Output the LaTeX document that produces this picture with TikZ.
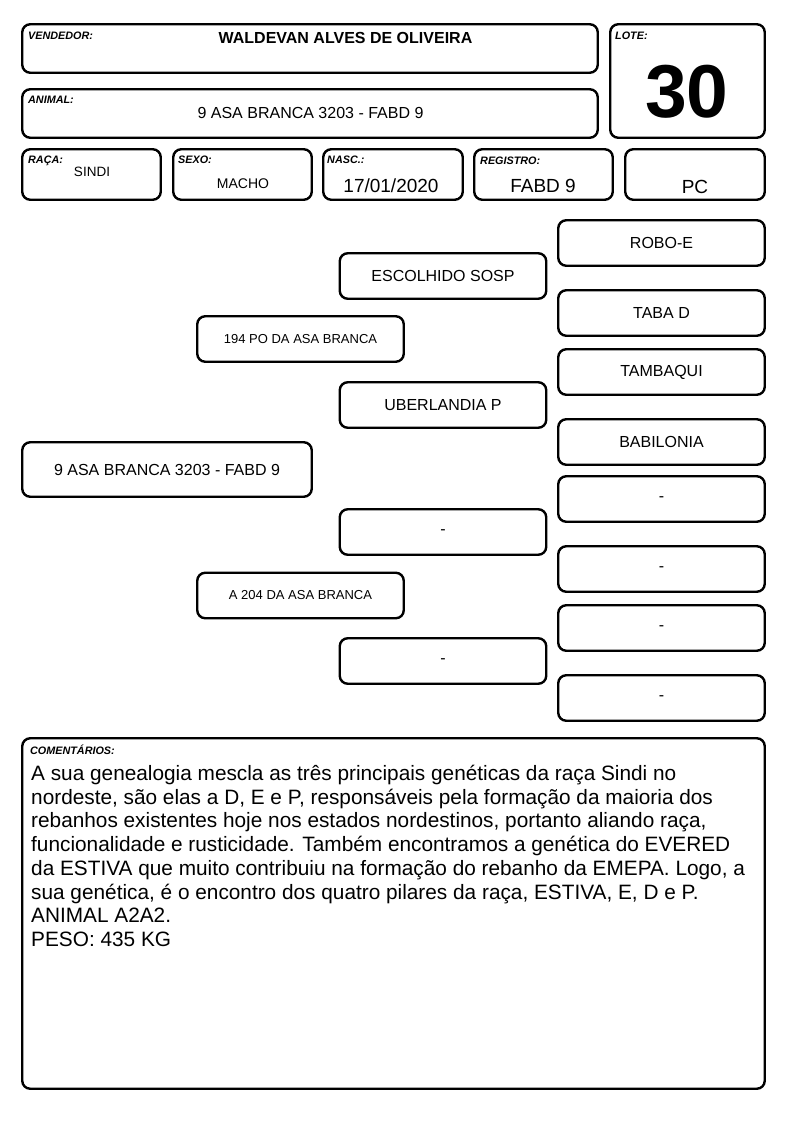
\documentclass[tikz,border=0pt]{standalone}
\usepackage{fontspec}
\setmainfont{Liberation Sans}
\usetikzlibrary{positioning}
\definecolor{fichaPreto}{RGB}{0,0,0}
\tikzset{
  caixa/.style={draw=fichaPreto,line width=2.4pt,rounded corners=8pt,inner sep=0pt},
  rotulo/.style={anchor=north west,inner sep=0pt,font=\fontsize{10.8}{12}\selectfont\bfseries\itshape},
  valor/.style={inner sep=0pt,font=\fontsize{19}{22}\selectfont},
  pedigree/.style={caixa,minimum width=206.5pt,minimum height=45.5pt,font=\fontsize{16}{18}\selectfont},
  avos/.style={pedigree,font=\fontsize{13}{15}\selectfont},
}

\begin{document}
\begin{tikzpicture}[x=1pt,y=-1pt]
  \path[use as bounding box,fill=white] (0,0) rectangle (794,1123);
  % cabecalho
  \node[caixa,minimum width=575.5pt,minimum height=48.5pt] (vendedor) at (310,48.5) {};
  \node[rotulo] (vendedorRot) at (28,32) {VENDEDOR:};
  \node[inner sep=0pt,font=\fontsize{16}{18}\selectfont\bfseries] (vendedorNome) at (345.5,38) {WALDEVAN ALVES DE OLIVEIRA};
  \node[caixa,minimum width=575.5pt,minimum height=48.5pt] (animal) at (310,113.5) {};
  \node[rotulo] (animalRot) at (28,96) {ANIMAL:};
  \node[inner sep=0pt,font=\fontsize{16}{19}\selectfont] (animalNome) at (310.5,113) {9 ASA BRANCA 3203 - FABD 9};
  \node[caixa,minimum width=154.5pt,minimum height=113.5pt] (lote) at (687.5,81) {};
  \node[rotulo] (loteRot) at (615,32) {LOTE:};
  \node[inner sep=0pt,font=\fontsize{75}{80}\selectfont\bfseries] (loteNum) at (687,92) {30};
  % dados do animal
  \node[caixa,minimum width=138.5pt,minimum height=50.5pt] (raca) at (91.5,174.5) {};
  \node[caixa,minimum width=138.5pt,minimum height=50.5pt] (sexo) at (242.5,174.5) {};
  \node[caixa,minimum width=139.5pt,minimum height=50.5pt] (nasc) at (393,174.5) {};
  \node[caixa,minimum width=138.5pt,minimum height=50.5pt] (registro) at (543.5,174.5) {};
  \node[caixa,minimum width=139.5pt,minimum height=50.5pt] (tipo) at (695,174.5) {};
  \node[rotulo] (racaRot) at (28,156) {RAÇA:};
  \node[rotulo] (sexoRot) at (178,156) {SEXO:};
  \node[rotulo] (nascRot) at (327,156) {NASC.:};
  \node[rotulo] (registroRot) at (480,157) {REGISTRO:};
  \node[valor,font=\fontsize{13.5}{16}\selectfont] (racaVal) at (92,172) {SINDI};
  \node[valor,font=\fontsize{14}{16}\selectfont] (sexoVal) at (243,184) {MACHO};
  \node[valor] (nascVal) at (391,186) {17/01/2020};
  \node[valor] (registroVal) at (543,186) {FABD 9};
  \node[valor] (tipoVal) at (695,187) {PC};
  % genealogia
  \node[pedigree,minimum width=289.5pt,minimum height=54.5pt] (proprio) at (167,469.5) {9 ASA BRANCA 3203 - FABD 9};
  \node[avos] (pai) at (300.5,339) {194 PO DA ASA BRANCA};
  \node[avos] (mae) at (300.5,595.5) {A 204 DA ASA BRANCA};
  \node[pedigree] (avoPP) at (443,276) {ESCOLHIDO SOSP};
  \node[pedigree] (avoPM) at (443,405) {UBERLANDIA P};
  \node[pedigree] (avoMP) at (443,532) {-};
  \node[pedigree] (avoMM) at (443,661) {-};
  \node[pedigree] (bisA) at (661.5,243) {ROBO-E};
  \node[pedigree] (bisB) at (661.5,313) {TABA D};
  \node[pedigree] (bisC) at (661.5,372) {TAMBAQUI};
  \node[pedigree] (bisD) at (661.5,442) {BABILONIA};
  \node[pedigree] (bisE) at (661.5,499) {-};
  \node[pedigree] (bisF) at (661.5,569) {-};
  \node[pedigree] (bisG) at (661.5,628) {-};
  \node[pedigree] (bisH) at (661.5,698) {-};
  % comentarios
  \node[caixa,minimum width=742.5pt,minimum height=350.5pt] (comentarios) at (393.5,913.5) {};
  \node[rotulo] (comentariosRot) at (30,745) {COMENTÁRIOS:};
  \node[anchor=north west,inner sep=0pt,align=left,font=\fontsize{20.8}{23.7}\selectfont] (comentariosTxt) at (31,765) {%
A sua genealogia mescla as três principais genéticas da raça Sindi no\\
nordeste, são elas a D, E e P, responsáveis pela formação da maioria dos\\
rebanhos existentes hoje nos estados nordestinos, portanto aliando raça,\\
funcionalidade e rusticidade. Também encontramos a genética do EVERED\\
da ESTIVA que muito contribuiu na formação do rebanho da EMEPA. Logo, a\\
sua genética, é o encontro dos quatro pilares da raça, ESTIVA, E, D e P.\\
ANIMAL A2A2.\\
PESO: 435 KG};
\end{tikzpicture}
\end{document}
